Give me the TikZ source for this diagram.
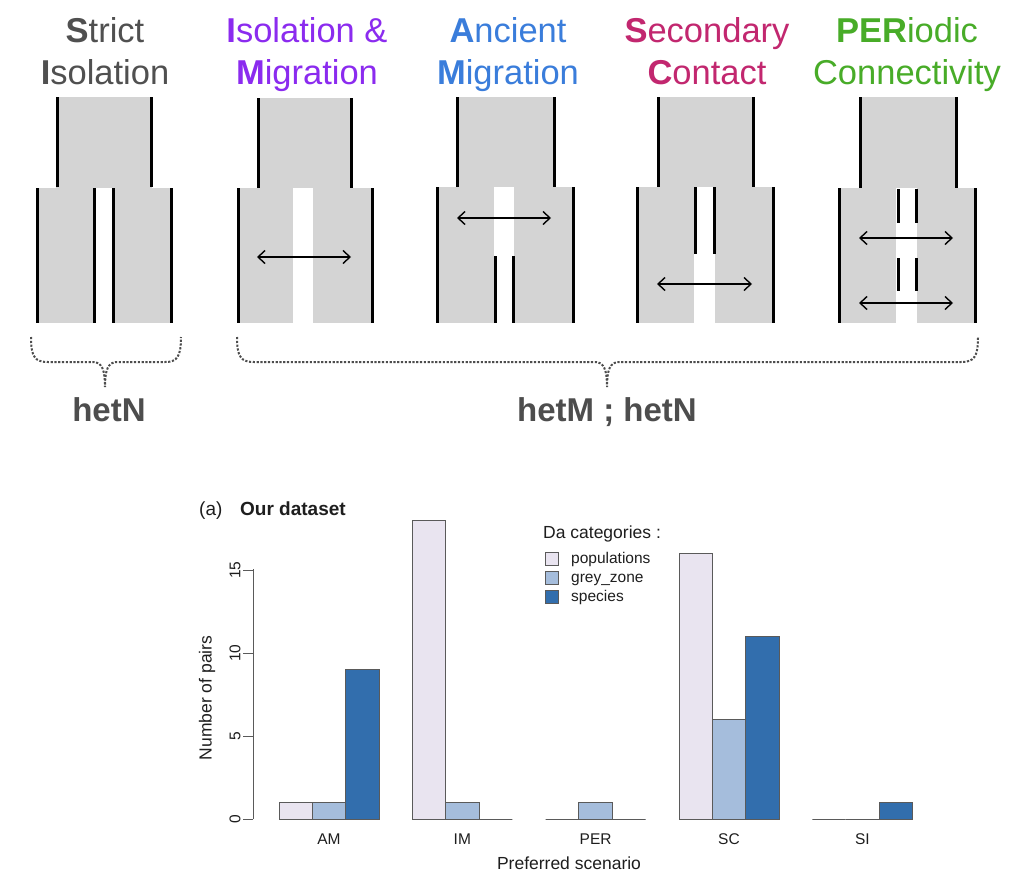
\documentclass[tikz,border=0pt]{standalone}
\usepackage{fontspec}
\setmainfont{Liberation Sans}
\usetikzlibrary{arrows.meta}
\definecolor{panelgray}{HTML}{D4D4D4}
\definecolor{sicol}{HTML}{505050}
\definecolor{imcol}{HTML}{8B2BEF}
\definecolor{amcol}{HTML}{3A7DDB}
\definecolor{sccol}{HTML}{C2276F}
\definecolor{percol}{HTML}{48AC28}
\definecolor{hetcol}{HTML}{4D4D4D}
\definecolor{popc}{HTML}{E9E4F0}
\definecolor{greyc}{HTML}{A5BDDC}
\definecolor{specc}{HTML}{326EAD}
\definecolor{barline}{HTML}{5A5A5A}
\definecolor{charttext}{HTML}{1E1E1E}
\tikzset{
  wall/.style={line width=3pt, black},
  gfill/.style={fill=panelgray},
  gap/.style={fill=white},
  mig/.style={line width=1.4pt, black, {Straight Barb[length=7pt,width=13pt]}-{Straight Barb[length=7pt,width=13pt]}},
  bracepath/.style={line width=2pt, hetcol, dash pattern=on 2.2pt off 1.6pt},
  ttl/.style={font=\fontsize{34.5}{40}\selectfont, anchor=base, inner sep=0pt},
  het/.style={font=\fontsize{33}{38}\selectfont\bfseries, hetcol, anchor=base, inner sep=0pt},
  bar/.style={draw=barline, line width=1pt},
  ctext/.style={font=\fontsize{15.5}{18}\selectfont, charttext, inner sep=0pt},
  atext/.style={font=\fontsize{17.5}{20}\selectfont, charttext, inner sep=0pt},
}
\begin{document}
\begin{tikzpicture}[x=1pt,y=-1pt]
\useasboundingbox[fill=white] (0,0) rectangle (1030,894);

% ---------------- Titles ----------------
\node[ttl, sicol] (t1a) at (105,42.5) {\textbf{S}trict};
\node[ttl, sicol] (t1b) at (105,84) {\textbf{I}solation};
\node[ttl, imcol] (t2a) at (307,42.5) {\textbf{I}solation \&};
\node[ttl, imcol] (t2b) at (307,84) {\textbf{M}igration};
\node[ttl, amcol] (t3a) at (508,42.5) {\textbf{A}ncient};
\node[ttl, amcol] (t3b) at (508,84) {\textbf{M}igration};
\node[ttl, sccol] (t4a) at (707,42.5) {\textbf{S}econdary};
\node[ttl, sccol] (t4b) at (707,84) {\textbf{C}ontact};
\node[ttl, percol] (t5a) at (907,42.5) {\textbf{PER}iodic};
\node[ttl, percol] (t5b) at (907,84) {Connectivity};

% ---------------- Strict Isolation ----------------
\fill[gfill] (56,97) rectangle (152,188);
\fill[gfill] (36,188) rectangle (95,323);
\fill[gfill] (112,188) rectangle (172,323);
\draw[wall] (57,97) -- (57,187) (151,97) -- (151,187);
\draw[wall] (37,188) -- (37,323) (94,188) -- (94,323) (113,188) -- (113,323) (171,188) -- (171,323);

% ---------------- Isolation & Migration ----------------
\fill[gfill] (257,98) rectangle (352,188);
\fill[gfill] (237,188) rectangle (373,323);
\fill[gap] (293,188) rectangle (313,323);
\draw[wall] (258,98) -- (258,188) (351,98) -- (351,188);
\draw[wall] (238,188) -- (238,323) (372,188) -- (372,323);
\coordinate (im1) at (257,257);
\coordinate (im2) at (351,257);
\draw[mig] (im1) -- (im2);

% ---------------- Ancient Migration ----------------
\fill[gfill] (456,97) rectangle (555,187);
\fill[gfill] (436,187) rectangle (574,323);
\fill[gap] (494,187) rectangle (514,323);
\draw[wall] (457,97) -- (457,187) (554,97) -- (554,187);
\draw[wall] (437,187) -- (437,323) (573,187) -- (573,323);
\draw[wall] (495,256) -- (495,323) (513,256) -- (513,323);
\coordinate (am1) at (457,218);
\coordinate (am2) at (551,218);
\draw[mig] (am1) -- (am2);

% ---------------- Secondary Contact ----------------
\fill[gfill] (657,97) rectangle (754,187);
\fill[gfill] (636,187) rectangle (774,323);
\fill[gap] (694,187) rectangle (715,323);
\draw[wall] (658,97) -- (658,187) (753,97) -- (753,187);
\draw[wall] (637,187) -- (637,323) (773,187) -- (773,323);
\draw[wall] (695.5,187) -- (695.5,254) (714,187) -- (714,254);
\coordinate (sc1) at (657,284);
\coordinate (sc2) at (752,284);
\draw[mig] (sc1) -- (sc2);

% ---------------- PERiodic Connectivity ----------------
\fill[gfill] (859,97) rectangle (957,188);
\fill[gfill] (838,188) rectangle (977,323);
\fill[gap] (896,188) rectangle (917,323);
\draw[wall] (860,97) -- (860,188) (956,97) -- (956,188);
\draw[wall] (839.5,188) -- (839.5,323) (975.5,188) -- (975.5,323);
\draw[wall] (898,189) -- (898,223) (916,189) -- (916,223);
\draw[wall] (898,258) -- (898,291) (916,258) -- (916,291);
\coordinate (pe1) at (859,238);
\coordinate (pe2) at (953,238);
\coordinate (pe3) at (859,303);
\coordinate (pe4) at (953,303);
\draw[mig] (pe1) -- (pe2);
\draw[mig] (pe3) -- (pe4);

% ---------------- Braces ----------------
\draw[bracepath] (31,337) .. controls (31,357) and (35,362) .. (48,362) -- (93,362)
  .. controls (102,362) and (105,370) .. (105,387)
  .. controls (105,370) and (108,362) .. (117,362) -- (165,362)
  .. controls (177,362) and (181,357) .. (181,337);
\draw[bracepath] (237,337) .. controls (237,357) and (241,362) .. (254,362) -- (595,362)
  .. controls (604,362) and (607,370) .. (607,387)
  .. controls (607,370) and (610,362) .. (619,362) -- (961,362)
  .. controls (974,362) and (978,357) .. (978,337);
\node[het] (hetn) at (109,421) {hetN};
\node[het] (hetmn) at (607,421) {hetM ; hetN};

% ---------------- Bar chart ----------------
\node[font=\fontsize{19}{22}\selectfont, charttext, anchor=base west, inner sep=0pt] (pa) at (199,515) {(a)};
\node[font=\fontsize{19}{22}\selectfont\bfseries, charttext, anchor=base west, inner sep=0pt] (ptitle) at (240,515) {Our dataset};

% y axis
\draw[barline, line width=1pt] (253,569) -- (253,819);
\foreach \v in {0,5,10,15} {
  \draw[barline, line width=1pt] (243,{819-16.6*\v}) -- (253,{819-16.6*\v});
  \node[ctext, rotate=90] (yt\v) at (235,{819-16.6*\v}) {\v};
}
\node[atext, rotate=90] (ylab) at (207,698) {Number of pairs};

% bars
\foreach \a/\b/\c/\lab [count=\i from 0] in {1/1/9/AM, 18/1/0/IM, 0/1/0/PER, 16/6/11/SC, 0/0/1/SI} {
  \pgfmathsetmacro\gx{279+133.33*\i}
  \draw[bar, fill=popc] (\gx,819) rectangle ({\gx+33.33},{819-16.6*\a});
  \draw[bar, fill=greyc] ({\gx+33.33},819) rectangle ({\gx+66.67},{819-16.6*\b});
  \draw[bar, fill=specc] ({\gx+66.67},819) rectangle ({\gx+100},{819-16.6*\c});
  \node[ctext, anchor=base] (cat\i) at ({\gx+50},844.5) {\lab};
}
\node[atext, anchor=base] (xlab) at (569,869) {Preferred scenario};

% legend
\node[atext, anchor=base west] (legt) at (543,538) {Da categories :};
\draw[bar, fill=popc] (545,552) rectangle (558,565);
\draw[bar, fill=greyc] (545,571) rectangle (558,584);
\draw[bar, fill=specc] (545,590) rectangle (558,603);
\node[ctext, anchor=base west] (leg1) at (571,563.5) {populations};
\node[ctext, anchor=base west] (leg2) at (571,582.5) {grey\_zone};
\node[ctext, anchor=base west] (leg3) at (571,601.5) {species};
\end{tikzpicture}
\end{document}
